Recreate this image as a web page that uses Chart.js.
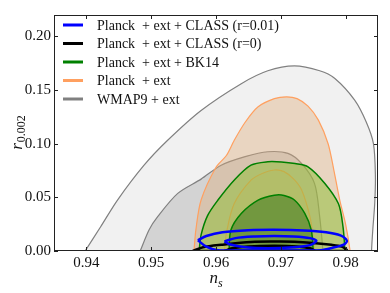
<!DOCTYPE html>
<html>
<head>
<meta charset="utf-8">
<script src="https://cdn.jsdelivr.net/npm/chart.js@4.4.0/dist/chart.umd.min.js"></script>
<style>
  body { margin: 0; background: #fff; }
  #wrap { width: 390px; height: 293px; position: relative; }
</style>
</head>
<body>
<div id="wrap"><canvas id="myChart"></canvas></div>
<script>
var xTicks = [0.94, 0.95, 0.96, 0.97, 0.98];
var yTicks = [0.00, 0.05, 0.10, 0.15, 0.20];
var xLabels = ['0.94', '0.95', '0.96', '0.97', '0.98'];
var yLabels = ['0.00', '0.05', '0.10', '0.15', '0.20'];

var legendLabels = [
  'Planck  + ext + CLASS (r=0.01)',
  'Planck  + ext + CLASS (r=0)',
  'Planck  + ext + BK14',
  'Planck  + ext',
  'WMAP9 + ext'
];

// contours as [n_s, r] pairs
var wmapOuter = [[0.9398, 0], [0.9422, 0.0226], [0.9448, 0.0475], [0.9489, 0.080], [0.9525, 0.103],
  [0.9577, 0.131], [0.9639, 0.156], [0.9680, 0.168], [0.9721, 0.1725], [0.9760, 0.168],
  [0.9783, 0.161], [0.9814, 0.1406], [0.9832, 0.120], [0.9843, 0.100], [0.9846, 0.070],
  [0.9845, 0.045], [0.9842, 0.020], [0.9840, 0], [0.9840, -0.005], [0.9398, -0.005], [0.9398, 0]];
var wmapInner = [[0.9483, 0], [0.9497, 0.020], [0.9510, 0.032], [0.9541, 0.0537], [0.9577, 0.067],
  [0.9608, 0.080], [0.9645, 0.088], [0.9680, 0.0925], [0.9711, 0.091], [0.9732, 0.0816],
  [0.9752, 0.063], [0.9760, 0.032], [0.9765, 0], [0.9765, -0.005], [0.9483, -0.005], [0.9483, 0]];
var planckOuter = [[0.9566, 0], [0.9569, 0.020], [0.9577, 0.0475], [0.9600, 0.078], [0.9616, 0.089],
  [0.9628, 0.103], [0.9645, 0.120], [0.9665, 0.1344], [0.9690, 0.142], [0.9709, 0.1437],
  [0.9725, 0.142], [0.9742, 0.135], [0.9758, 0.122], [0.9773, 0.100], [0.9782, 0.075],
  [0.9791, 0.0475], [0.9800, 0.025], [0.9807, 0], [0.9807, -0.005], [0.9566, -0.005], [0.9566, 0]];
var planckInner = [[0.9613, 0], [0.9616, 0.0165], [0.9628, 0.044], [0.9654, 0.066], [0.9672, 0.0725],
  [0.9690, 0.0755], [0.9705, 0.074], [0.9720, 0.067], [0.9732, 0.057], [0.9745, 0.032],
  [0.9750, 0.012], [0.9752, 0], [0.9752, -0.005], [0.9613, -0.005], [0.9613, 0]];
var bk14Outer = [[0.9574, 0], [0.9577, 0.015], [0.9587, 0.033], [0.9603, 0.0475], [0.9628, 0.066],
  [0.9654, 0.080], [0.9680, 0.0832], [0.9701, 0.083], [0.9722, 0.0815], [0.9742, 0.0785],
  [0.9768, 0.063], [0.9789, 0.044], [0.9796, 0.0226], [0.9799, 0], [0.9799, -0.005],
  [0.9574, -0.005], [0.9574, 0]];
var bk14Inner = [[0.9620, 0], [0.9623, 0.0196], [0.9639, 0.035], [0.9665, 0.0475], [0.9690, 0.052],
  [0.9705, 0.0518], [0.9721, 0.0475], [0.9737, 0.035], [0.9747, 0.0196], [0.9750, 0],
  [0.9750, -0.005], [0.9620, -0.005], [0.9620, 0]];
var class0Outer = [[0.9564, 0], [0.9580, 0.0035], [0.9608, 0.0058], [0.9654, 0.0085], [0.9700, 0.0088],
  [0.9740, 0.0080], [0.9778, 0.0058], [0.9794, 0.0040], [0.9802, 0], [0.9564, 0]];
var class0Inner = [[0.9613, 0], [0.9625, 0.0025], [0.9650, 0.0042], [0.9690, 0.0048], [0.9725, 0.0042],
  [0.9745, 0.0025], [0.9752, 0], [0.9613, 0]];
var class1Outer = [[0.9572, 0.0100], [0.9585, 0.0140], [0.9610, 0.0175], [0.9650, 0.0193], [0.9690, 0.0197],
  [0.9735, 0.0192], [0.9770, 0.0175], [0.9792, 0.0145], [0.9802, 0.0095], [0.9797, 0.0060],
  [0.9780, 0.0030], [0.9762, 0.0008], [0.9700, 0.0005], [0.9640, 0.0005], [0.9603, 0.0008],
  [0.9585, 0.0040], [0.9572, 0.0100]];
var class1Inner = [[0.9613, 0.0090], [0.9630, 0.0120], [0.9660, 0.0135], [0.9690, 0.0140], [0.9720, 0.0135],
  [0.9745, 0.0120], [0.9755, 0.0095], [0.9745, 0.0055], [0.9720, 0.0035], [0.9680, 0.0025],
  [0.9645, 0.0035], [0.9622, 0.0060], [0.9613, 0.0090]];

var SERIF = "'Liberation Serif', 'DejaVu Serif', serif";
var legendColors = ['#0000ff', '#000000', '#008000', '#ffa060', '#808080'];

function contour(points, line, fillColor, width) {
  return {
    data: points.map(p => ({x: p[0], y: p[1]})),
    showLine: true,
    borderColor: line,
    backgroundColor: fillColor || 'rgba(0,0,0,0)',
    fill: fillColor ? 'shape' : false,
    borderWidth: width,
    pointRadius: 0,
    tension: 0.3
  };
}

var datasets = [
  contour(wmapOuter, '#808080', 'rgba(128,128,128,0.11)', 1.2),
  contour(wmapInner, '#808080', 'rgba(128,128,128,0.27)', 1.2),
  contour(planckOuter, '#ffa060', 'rgba(220,170,120,0.4)', 1.2),
  contour(planckInner, '#ffa060', 'rgba(230,180,120,0.25)', 1.2),
  contour(bk14Outer, '#008000', 'rgba(140,190,50,0.5)', 1.5),
  contour(bk14Inner, '#008000', 'rgba(60,120,30,0.55)', 1.5),
  contour(class0Outer, '#000000', null, 2.5),
  contour(class0Inner, '#000000', null, 2.5),
  contour(class1Outer, '#0000ff', null, 2.5),
  contour(class1Inner, '#0000ff', null, 2.5)
];
// first dataset drawn first (bottom)
datasets.forEach((d, i) => { d.order = datasets.length - i; });

const framePlugin = {
  id: 'frame',
  afterDatasetsDraw(chart) {
    const ctx = chart.ctx;
    const a = chart.chartArea;
    const xs = chart.scales.x, ys = chart.scales.y;
    ctx.save();
    ctx.strokeStyle = '#222';
    ctx.lineWidth = 1;
    ctx.strokeRect(Math.round(a.left) + 0.5, Math.round(a.top) + 0.5,
      Math.round(a.right - a.left) - 1, Math.round(a.bottom - a.top) - 1);
    ctx.beginPath();
    for (const v of xTicks) {
      const px = Math.round(xs.getPixelForValue(v)) + 0.5;
      ctx.moveTo(px, a.bottom); ctx.lineTo(px, a.bottom - 4);
      ctx.moveTo(px, a.top); ctx.lineTo(px, a.top + 4);
    }
    for (const v of yTicks) {
      const py = Math.round(ys.getPixelForValue(v)) + 0.5;
      ctx.moveTo(a.left, py); ctx.lineTo(a.left + 4, py);
      ctx.moveTo(a.right, py); ctx.lineTo(a.right - 4, py);
    }
    ctx.stroke();
    ctx.restore();
  },
  afterDraw(chart) {
    const ctx = chart.ctx;
    const a = chart.chartArea;
    ctx.save();
    // legend
    ctx.font = '14px ' + SERIF;
    ctx.textBaseline = 'middle';
    ctx.textAlign = 'left';
    legendLabels.forEach((t, i) => {
      const y = 25 + i * 18.5;
      ctx.strokeStyle = legendColors[i];
      ctx.lineWidth = 3;
      ctx.beginPath();
      ctx.moveTo(63, y); ctx.lineTo(83, y);
      ctx.stroke();
      ctx.fillStyle = '#111';
      ctx.fillText(t, 97, y + 1);
    });
    // x axis title: n_s
    const cx = (a.left + a.right) / 2;
    ctx.textBaseline = 'alphabetic';
    ctx.font = 'italic 17px ' + SERIF;
    const wn = ctx.measureText('n').width;
    ctx.font = 'italic 12px ' + SERIF;
    const ws = ctx.measureText('s').width;
    let x0 = cx - (wn + ws) / 2;
    ctx.font = 'italic 17px ' + SERIF;
    ctx.fillText('n', x0, 283);
    ctx.font = 'italic 12px ' + SERIF;
    ctx.fillText('s', x0 + wn, 287);
    // y axis title: r_0.002
    const cy = (a.top + a.bottom) / 2;
    ctx.translate(22, cy);
    ctx.rotate(-Math.PI / 2);
    ctx.font = 'italic 17px ' + SERIF;
    const wr = ctx.measureText('r').width;
    ctx.font = '12px ' + SERIF;
    const wsub = ctx.measureText('0.002').width;
    x0 = -(wr + wsub) / 2;
    ctx.font = 'italic 17px ' + SERIF;
    ctx.fillText('r', x0, 0);
    ctx.font = '12px ' + SERIF;
    ctx.fillText('0.002', x0 + wr + 1, 3);
    ctx.restore();
  }
};

const config = {
  type: 'scatter',
  data: { datasets: datasets },
  options: {
    responsive: true,
    maintainAspectRatio: false,
    animation: false,
    layout: { padding: { top: 15, right: 12, left: 0, bottom: 0 } },
    plugins: { legend: { display: false }, tooltip: { enabled: false } },
    scales: {
      x: {
        type: 'linear', min: 0.935, max: 0.985,
        grid: { display: false, drawTicks: false },
        border: { display: false },
        afterBuildTicks: s => { s.ticks = xTicks.map(v => ({ value: v })); },
        afterFit: s => { s.height = 42; },
        ticks: {
          padding: 3, maxRotation: 0, autoSkip: false, color: '#111',
          font: { family: SERIF, size: 15 },
          callback: (v) => xLabels[xTicks.findIndex(t => Math.abs(t - v) < 1e-6)]
        }
      },
      y: {
        type: 'linear', min: 0, max: 0.22,
        grid: { display: false, drawTicks: false },
        border: { display: false },
        afterBuildTicks: s => { s.ticks = yTicks.map(v => ({ value: v })); },
        afterFit: s => { s.width = 54; },
        ticks: {
          padding: 3, autoSkip: false, color: '#111',
          font: { family: SERIF, size: 15 },
          callback: (v) => yLabels[yTicks.findIndex(t => Math.abs(t - v) < 1e-6)]
        }
      }
    }
  },
  plugins: [framePlugin]
};

var myChart = new Chart(document.getElementById('myChart'), config);
</script>
</body>
</html>
